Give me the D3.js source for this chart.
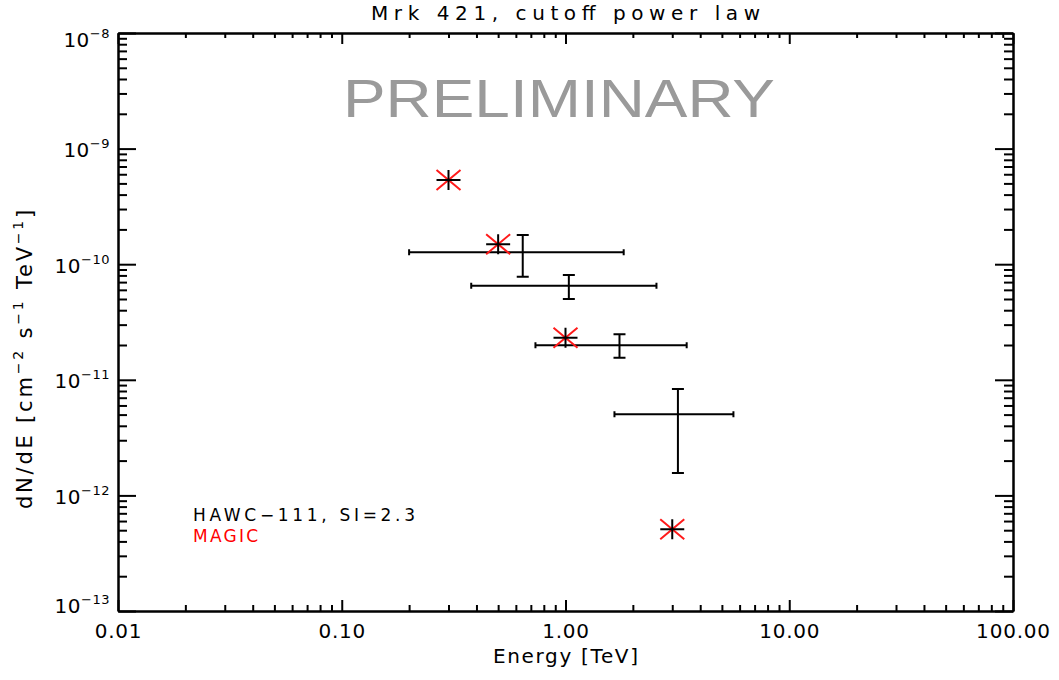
<!DOCTYPE html>
<html>
<head>
	<meta charset="utf-8">
	<title>Mrk 421, cutoff power law</title>
	<script src="https://cdn.jsdelivr.net/npm/d3@7"></script>
	<style>
		body { margin: 0; background: #fff; }
		text { font-family: "DejaVu Sans", sans-serif; fill: #000; }
		.domain { stroke: #000; stroke-width: 2; }
		.tick line { stroke: #000; stroke-width: 2; }
	</style>
</head>
<body>
	<div id="chart"></div>
	<script>

		// data

		const xTickValues = [0.01, 0.1, 1, 10, 100];
		const yTickExponents = [-8, -9, -10, -11, -12, -13];

		// MAGIC points (stars)
		const magicEnergy = [0.3, 0.5, 1.0, 3.0];
		const magicFlux = [5.35e-10, 1.49e-10, 2.31e-11, 5.1e-13];

		// HAWC-111 points with error bars
		const hawcEnergy = [0.644, 1.035, 1.743, 3.18];
		const hawcEnergyLo = [0.2, 0.379, 0.734, 1.655];
		const hawcEnergyHi = [1.82, 2.55, 3.48, 5.63];
		const hawcFlux = [1.27e-10, 6.52e-11, 1.99e-11, 5.03e-12];
		const hawcFluxLo = [7.8e-11, 5.0e-11, 1.55e-11, 1.56e-12];
		const hawcFluxHi = [1.79e-10, 8.07e-11, 2.48e-11, 8.32e-12];

		// layout

		const width = 1059;
		const height = 680;
		const marginLeft = 118;
		const marginRight = 46;
		const marginTop = 33;
		const marginBottom = 69;
		const fontSize = "20px";
		const supSize = "13px";

		const svg = d3.select("#chart")
			.append("svg")
			.attr("width", width)
			.attr("height", height)
			.attr("viewBox", [0, 0, width, height]);

		const x = d3.scaleLog()
			.domain([0.01, 100])
			.range([marginLeft, width - marginRight]);

		const y = d3.scaleLog()
			.domain([1e-13, 1e-8])
			.range([height - marginBottom, marginTop]);

		const minorOf = function(domain) {
			const out = [];
			const lo = Math.round(Math.log10(domain[0]));
			const hi = Math.round(Math.log10(domain[1]));
			for (let e = lo; e < hi; e++) {
				for (let k = 2; k <= 9; k++) out.push(k * Math.pow(10, e));
			}
			return out;
		};

		const xMinor = minorOf(x.domain());
		const yMinor = minorOf(y.domain());
		const yTickValues = yTickExponents.map(e => Math.pow(10, e));

		// bottom axis
		svg.append("g")
			.attr("transform", `translate(0,${height - marginBottom})`)
			.call(d3.axisBottom(x).tickValues(xMinor).tickSizeInner(-6).tickSizeOuter(0).tickFormat(""));
		svg.append("g")
			.attr("transform", `translate(0,${height - marginBottom})`)
			.call(d3.axisBottom(x).tickValues(xTickValues).tickSizeInner(-11).tickSizeOuter(0)
				.tickPadding(13).tickFormat(d3.format(".2f")))
			.selectAll("text")
			.style("font-size", fontSize)
			.style("letter-spacing", "0.8px");

		// top axis
		svg.append("g")
			.attr("transform", `translate(0,${marginTop})`)
			.call(d3.axisTop(x).tickValues(xMinor).tickSizeInner(-5).tickSizeOuter(0).tickFormat(""));
		svg.append("g")
			.attr("transform", `translate(0,${marginTop})`)
			.call(d3.axisTop(x).tickValues(xTickValues).tickSizeInner(-11).tickSizeOuter(0).tickFormat(""));

		// left axis
		svg.append("g")
			.attr("transform", `translate(${marginLeft},0)`)
			.call(d3.axisLeft(y).tickValues(yMinor).tickSizeInner(-9).tickSizeOuter(0).tickFormat(""));
		const yAxis = svg.append("g")
			.attr("transform", `translate(${marginLeft},0)`)
			.call(d3.axisLeft(y).tickValues(yTickValues).tickSizeInner(-18).tickSizeOuter(0)
				.tickPadding(8).tickFormat(""));

		yAxis.selectAll(".tick text")
			.attr("dy", (d, i) => i === 0 ? 13 : (i === yTickValues.length - 1 ? 1 : 8))
			.style("font-size", fontSize)
			.style("letter-spacing", "0.5px")
			.each(function(d) {
				const t = d3.select(this);
				t.append("tspan").text("10");
				t.append("tspan")
					.attr("dy", -9)
					.style("font-size", supSize)
					.text("\u2212" + Math.abs(Math.round(Math.log10(d))));
			});

		// right axis
		svg.append("g")
			.attr("transform", `translate(${width - marginRight},0)`)
			.call(d3.axisRight(y).tickValues(yMinor).tickSizeInner(-9).tickSizeOuter(0).tickFormat(""));
		svg.append("g")
			.attr("transform", `translate(${width - marginRight},0)`)
			.call(d3.axisRight(y).tickValues(yTickValues).tickSizeInner(-18).tickSizeOuter(0).tickFormat(""));

		// titles
		svg.append("text")
			.attr("x", (marginLeft + width - marginRight) / 2)
			.attr("y", 20)
			.attr("text-anchor", "middle")
			.attr("textLength", 389)
			.attr("lengthAdjust", "spacing")
			.style("font-size", fontSize)
			.text("Mrk 421, cutoff power law");

		svg.append("text")
			.attr("x", (marginLeft + width - marginRight) / 2)
			.attr("y", 663)
			.attr("text-anchor", "middle")
			.attr("textLength", 145)
			.attr("lengthAdjust", "spacing")
			.style("font-size", fontSize)
			.text("Energy [TeV]");

		const yTitle = svg.append("text")
			.attr("transform", "translate(32,358) rotate(-90)")
			.attr("text-anchor", "middle")
			.style("font-size", "21px")
			.style("letter-spacing", "2.8px");
		yTitle.append("tspan").text("dN/dE [cm");
		yTitle.append("tspan").attr("dy", -9).style("font-size", "14px").text("\u22122");
		yTitle.append("tspan").attr("dy", 9).text(" s");
		yTitle.append("tspan").attr("dy", -9).style("font-size", "14px").text("\u22121");
		yTitle.append("tspan").attr("dy", 9).text(" TeV");
		yTitle.append("tspan").attr("dy", -9).style("font-size", "14px").text("\u22121");
		yTitle.append("tspan").attr("dy", 9).text("]");

		svg.append("text")
			.attr("x", 343)
			.attr("y", 117)
			.attr("textLength", 432)
			.attr("lengthAdjust", "spacingAndGlyphs")
			.style("font-family", "'Liberation Sans', sans-serif")
			.style("font-size", "53px")
			.style("fill", "#9a9a9a")
			.text("PRELIMINARY");

		// legend
		svg.append("text")
			.attr("x", 193)
			.attr("y", 521)
			.attr("textLength", 222)
			.attr("lengthAdjust", "spacing")
			.style("font-size", "17px")
			.text("HAWC\u2212111, SI=2.3");
		svg.append("text")
			.attr("x", 193)
			.attr("y", 542)
			.attr("textLength", 65)
			.attr("lengthAdjust", "spacing")
			.style("font-size", "17px")
			.style("fill", "#ff0000")
			.text("MAGIC");

		// HAWC error bars
		const hawc = hawcEnergy.map((e, i) => ({
			e: e, eLo: hawcEnergyLo[i], eHi: hawcEnergyHi[i],
			f: hawcFlux[i], fLo: hawcFluxLo[i], fHi: hawcFluxHi[i]
		}));

		const bars = svg.append("g")
			.attr("stroke", "#000")
			.attr("stroke-width", 2)
			.attr("fill", "none");

		bars.selectAll("path")
			.data(hawc)
			.join("path")
			.attr("d", d => {
				const cx = x(d.e), cy = y(d.f);
				const x0 = x(d.eLo), x1 = x(d.eHi);
				const y0 = y(d.fHi), y1 = y(d.fLo);
				return `M${x0},${cy}H${x1}` +
					`M${x0},${cy - 3}V${cy + 3}M${x1},${cy - 3}V${cy + 3}` +
					`M${cx},${y0}V${y1}` +
					`M${cx - 6},${y0}H${cx + 6}M${cx - 6},${y1}H${cx + 6}`;
			});

		// MAGIC stars
		const magic = magicEnergy.map((e, i) => ({ e: e, f: magicFlux[i] }));

		const stars = svg.append("g")
			.selectAll("g")
			.data(magic)
			.join("g")
			.attr("transform", d => `translate(${x(d.e)},${y(d.f)})`);

		stars.append("path")
			.attr("d", "M-12,-10L12,10M-12,10L12,-10")
			.attr("stroke", "#ff1a1a")
			.attr("stroke-width", 2);
		stars.append("path")
			.attr("d", "M-12,0H12M0,-10V10")
			.attr("stroke", "#000")
			.attr("stroke-width", 2);

	</script>
</body>
</html>
